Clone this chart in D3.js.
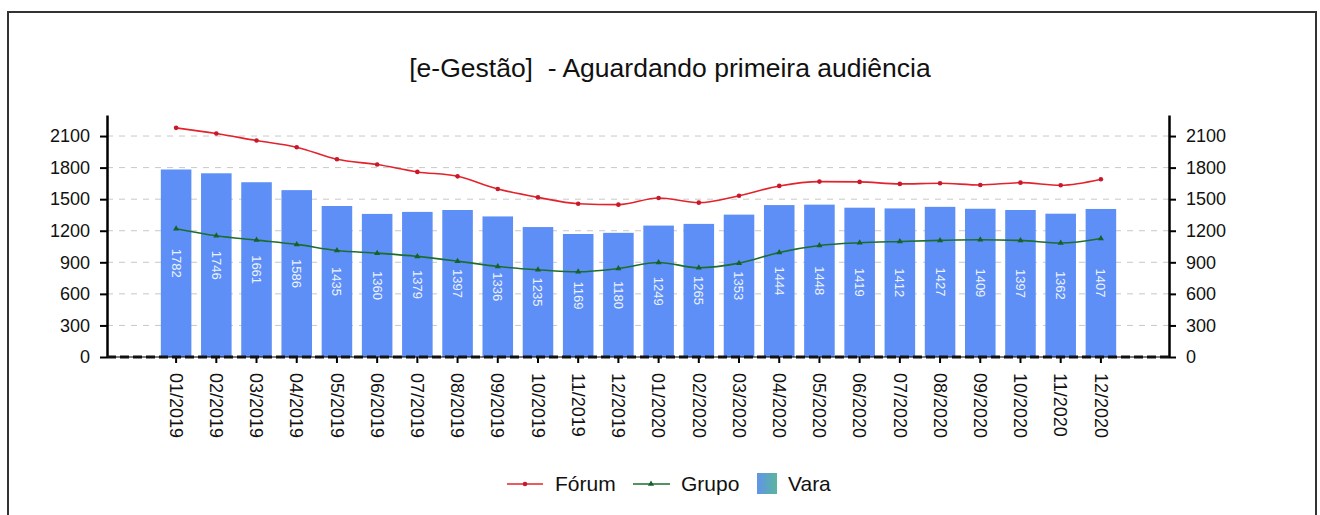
<!DOCTYPE html>
<html>
<head>
<meta charset="utf-8">
<script src="https://cdn.jsdelivr.net/npm/d3@7"></script>
<style>
  html, body { margin: 0; padding: 0; background: #fff; }
  svg { display: block; font-family: "Liberation Sans", Arial, sans-serif; }
</style>
</head>
<body>
<svg id="chart" width="1320" height="515"></svg>
<script>
const categories = ["01/2019","02/2019","03/2019","04/2019","05/2019","06/2019","07/2019","08/2019","09/2019","10/2019","11/2019","12/2019",
                    "01/2020","02/2020","03/2020","04/2020","05/2020","06/2020","07/2020","08/2020","09/2020","10/2020","11/2020","12/2020"];
const vara   = [1782,1746,1661,1586,1435,1360,1379,1397,1336,1235,1169,1180,1249,1265,1353,1444,1448,1419,1412,1427,1409,1397,1362,1407];
const forum  = [2178,2124,2057,1994,1879,1829,1759,1717,1597,1517,1457,1448,1511,1467,1533,1626,1667,1664,1645,1651,1635,1657,1632,1689];
const grupo  = [1219,1152,1111,1070,1012,987,956,911,860,829,810,841,898,848,892,994,1060,1086,1098,1108,1114,1108,1083,1127];
const yTicks = [0,300,600,900,1200,1500,1800,2100];
const title = "[e-Gestão]  - Aguardando primeira audiência";
const legendLabels = ["Fórum","Grupo","Vara"];

const svg = d3.select("#chart");
const axL = 107, axR = 1169, y0 = 357, yTop = 115;

// frame
svg.append("rect").attr("x", 8).attr("y", 12).attr("width", 1308).attr("height", 520)
  .attr("fill", "none").attr("stroke", "#333").attr("stroke-width", 2);

// title
svg.append("text").attr("x", 670).attr("y", 77).attr("text-anchor", "middle")
  .attr("font-size", 26.5).attr("fill", "#111").style("white-space", "pre").text(title);

const x = d3.scaleBand().domain(categories).range([156, 1121]).paddingInner(0.24).paddingOuter(0.12);
const y = d3.scaleLinear().domain([0, 2300]).range([y0, yTop]);

// gridlines
svg.append("g").selectAll("line").data(yTicks.filter(d => d > 0)).join("line")
  .attr("x1", axL).attr("x2", axR).attr("y1", d => y(d)).attr("y2", d => y(d))
  .attr("stroke", "#c8c8c8").attr("stroke-width", 1).attr("stroke-dasharray", "6,6");

// bars
svg.append("g").selectAll("rect").data(vara).join("rect")
  .attr("x", (d, i) => x(categories[i])).attr("width", x.bandwidth())
  .attr("y", d => y(d)).attr("height", d => y0 - y(d)).attr("fill", "#5d8ff6");

// bar labels
svg.append("g").selectAll("text").data(vara).join("text")
  .attr("transform", (d, i) => `translate(${x(categories[i]) + x.bandwidth() / 2},${(y(d) + y0) / 2}) rotate(90)`)
  .attr("text-anchor", "middle").attr("dy", "0.35em").attr("font-size", 13)
  .attr("fill", "#eef3ff").text(d => d);

// axes
const leftAxis = d3.axisLeft(y).tickValues(yTicks).tickSize(7).tickSizeOuter(0).tickPadding(10).tickFormat(d3.format("d"));
const rightAxis = d3.axisRight(y).tickValues(yTicks).tickSize(7).tickSizeOuter(0).tickPadding(10).tickFormat(d3.format("d"));
const gl = svg.append("g").attr("transform", `translate(${axL},0)`).call(leftAxis);
const gr = svg.append("g").attr("transform", `translate(${axR},0)`).call(rightAxis);
[gl, gr].forEach(g => {
  g.select(".domain").attr("stroke", "#000").attr("stroke-width", 2.5);
  g.selectAll(".tick line").attr("stroke", "#000").attr("stroke-width", 2);
  g.selectAll(".tick text").attr("font-size", 18).attr("fill", "#111")
    .attr("font-family", "Liberation Sans, Arial, sans-serif");
});

// bottom axis
const xAxis = d3.axisBottom(x).tickSize(6).tickSizeOuter(0).tickFormat("");
const gb = svg.append("g").attr("transform", `translate(0,${y0})`).call(xAxis);
gb.select(".domain").remove();
gb.selectAll(".tick line").attr("stroke", "#000").attr("stroke-width", 2);
svg.append("line").attr("x1", axL).attr("x2", axR).attr("y1", y0).attr("y2", y0)
  .attr("stroke", "#000").attr("stroke-width", 1.2);
svg.append("line").attr("x1", axL).attr("x2", axR).attr("y1", y0).attr("y2", y0)
  .attr("stroke", "#111").attr("stroke-width", 3).attr("stroke-dasharray", "9,4");

svg.append("g").selectAll("text").data(categories).join("text")
  .attr("transform", d => `translate(${x(d) + x.bandwidth() / 2},373) rotate(90)`)
  .attr("dy", "0.35em").attr("font-size", 18).attr("fill", "#111").text(d => d);

// lines
const cx = (i) => x(categories[i]) + x.bandwidth() / 2;
const line = d3.line().x((d, i) => cx(i)).y(d => y(d)).curve(d3.curveMonotoneX);
svg.append("path").datum(forum).attr("d", line).attr("fill", "none").attr("stroke", "#e3232c").attr("stroke-width", 1.6);
svg.append("path").datum(grupo).attr("d", line).attr("fill", "none").attr("stroke", "#1d6e2e").attr("stroke-width", 1.6);
svg.append("g").selectAll("circle").data(forum).join("circle")
  .attr("cx", (d, i) => cx(i)).attr("cy", d => y(d)).attr("r", 2.3).attr("fill", "#c8182a");
const tri = d3.symbol().type(d3.symbolTriangle).size(16);
svg.append("g").selectAll("path").data(grupo).join("path")
  .attr("transform", (d, i) => `translate(${cx(i)},${y(d)})`).attr("d", tri()).attr("fill", "#16602a");

// legend
const defs = svg.append("defs");
const grad = defs.append("linearGradient").attr("id", "varaGrad").attr("x1", "0").attr("x2", "1");
grad.append("stop").attr("offset", "0").attr("stop-color", "#6194ea");
grad.append("stop").attr("offset", "1").attr("stop-color", "#5ab59e");
const ly = 484;
const lg = svg.append("g");
lg.append("line").attr("x1", 507).attr("x2", 543).attr("y1", ly).attr("y2", ly).attr("stroke", "#e3232c").attr("stroke-width", 1.6);
lg.append("circle").attr("cx", 525).attr("cy", ly).attr("r", 2.3).attr("fill", "#c8182a");
lg.append("line").attr("x1", 633).attr("x2", 670).attr("y1", ly).attr("y2", ly).attr("stroke", "#1d6e2e").attr("stroke-width", 1.6);
lg.append("path").attr("transform", `translate(651,${ly})`).attr("d", tri()).attr("fill", "#16602a");
lg.append("rect").attr("x", 757).attr("y", 473).attr("width", 20).attr("height", 21).attr("fill", "url(#varaGrad)");
const lx = [555, 681, 788];
lg.selectAll("text").data(legendLabels).join("text")
  .attr("x", (d, i) => lx[i]).attr("y", ly).attr("dy", "0.35em").attr("font-size", 21).attr("fill", "#111").text(d => d);
</script>
</body>
</html>
